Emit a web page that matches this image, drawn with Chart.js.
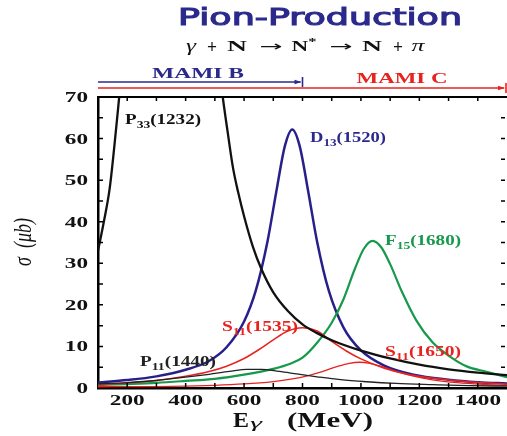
<!DOCTYPE html>
<html>
<head>
<meta charset="utf-8">
<script src="https://cdn.jsdelivr.net/npm/chart.js@4/dist/chart.umd.min.js"></script>
<style>
  html, body { margin: 0; padding: 0; background: #fff; }
  canvas { display: block; }
</style>
</head>
<body>
<canvas id="c" width="507" height="436"></canvas>
<script>
// Photon energy E_gamma (MeV) and cross section sigma (μb) for each resonance
const p33E = [100, 120, 140, 160, 180, 200, 240, 280, 320, 340, 360, 400, 450, 480, 500, 510, 520, 527, 545, 562, 580, 600, 630, 660, 700, 750, 800, 850, 900, 1000, 1100, 1200, 1300, 1400, 1500];
const p33S = [33, 40, 48, 61, 76, 96, 150, 215, 265, 275, 270, 235, 138, 105, 88, 80.5, 74, 70, 61, 53, 47, 41.3, 34, 28.5, 23, 18.5, 15.3, 13.2, 11.5, 9.0, 7.1, 5.6, 4.5, 3.7, 3.1];

const d13E = [100, 200, 300, 400, 480, 540, 600, 640, 680, 710, 740, 765, 790, 820, 850, 890, 940, 1000, 1080, 1180, 1300, 1400, 1500];
const d13S = [1.3, 1.9, 2.8, 4.4, 6.5, 9.8, 16.0, 23.4, 35.2, 47.1, 58.3, 62.2, 58.3, 47.1, 35.2, 23.4, 14.6, 9.05, 5.4, 3.2, 2.0, 1.4, 1.1];

const f15E = [100, 200, 300, 400, 500, 600, 700, 760, 800, 850, 900, 940, 980, 1010, 1040, 1070, 1100, 1140, 1190, 1245, 1300, 1362, 1430, 1500];
const f15S = [0.7, 0.95, 1.25, 1.7, 2.2, 3.2, 4.6, 5.9, 7.3, 10.9, 15.7, 21.3, 28.8, 33.5, 35.4, 33.8, 29.8, 23.2, 16.2, 11.0, 7.8, 5.2, 3.9, 2.6];

const s1535E = [100, 200, 300, 400, 480, 540, 600, 650, 700, 750, 800, 850, 900, 950, 1000, 1080, 1160, 1245, 1350, 1500];
const s1535S = [0.8, 1.2, 1.8, 2.8, 3.96, 5.25, 7.1, 9.2, 11.6, 13.7, 14.5, 13.7, 11.2, 8.9, 7.0, 4.77, 3.3, 2.4, 1.63, 0.9];

const s1650E = [100, 300, 500, 600, 700, 760, 820, 870, 920, 960, 995, 1030, 1070, 1120, 1180, 1245, 1330, 1420, 1500];
const s1650S = [0.3, 0.35, 0.65, 0.97, 1.55, 2.13, 3.0, 4.0, 5.2, 5.95, 6.2, 5.95, 5.2, 4.0, 2.84, 1.96, 1.27, 0.86, 0.63];

const p11E = [100, 200, 300, 400, 480, 550, 610, 660, 720, 780, 850, 930, 1020, 1120, 1245, 1370, 1500];
const p11S = [1.0, 1.3, 1.8, 2.6, 3.3, 4.0, 4.5, 4.5, 4.0, 3.4, 2.7, 2.0, 1.5, 1.1, 0.8, 0.55, 0.45];

// Axis ticks
const xTickLabels = [200, 400, 600, 800, 1000, 1200, 1400];
const yTickLabels = [0, 10, 20, 30, 40, 50, 60, 70];

// Beam energy ranges of the two accelerator stages (MeV)
const mamiBEnd = 800;
const mamiCEnd = 1500;

const NAVY = '#2b2a8c';
const RED = '#e8231f';
const GREEN = '#16994a';
const SERIF = "'Liberation Serif', 'Times New Roman', serif";
const SANS = "'DejaVu Sans', sans-serif";

function pts(E, S) { return E.map((x, i) => ({ x: x, y: S[i] })); }

function curve(label, E, S, color, width) {
  return {
    label: label, data: pts(E, S), borderColor: color, borderWidth: width,
    pointRadius: 0, fill: false, cubicInterpolationMode: 'monotone'
  };
}

// Draw a run of text pieces (with sub/superscripts), optionally stretched to a given width
function rich(ctx, parts, x, y, size, color, width, align, fam, weight, stroke) {
  fam = fam || SERIF; weight = weight || 'bold';
  const fontOf = p => {
    const base = p.size || size;
    const s = (p.sub || p.sup) ? Math.round(base * (p.scale || 0.68)) : base;
    return (p.italic ? 'italic ' : '') + (p.weight || weight) + ' ' + s + 'px ' + (p.fam || fam);
  };
  ctx.save();
  let w = 0;
  parts.forEach(p => { ctx.font = fontOf(p); p._w = ctx.measureText(p.t).width; w += p._w; });
  const sx = width ? width / w : 1;
  ctx.translate(x, y);
  ctx.scale(sx, 1);
  let cx = align === 'center' ? -w / 2 : (align === 'right' ? -w : 0);
  ctx.fillStyle = color;
  ctx.strokeStyle = color;
  ctx.lineWidth = stroke || 0;
  ctx.textBaseline = 'alphabetic';
  ctx.textAlign = 'left';
  parts.forEach(p => {
    ctx.font = fontOf(p);
    const dy = (p.dy !== undefined) ? p.dy : (p.sub ? size * 0.3 : (p.sup ? -size * 0.42 : 0));
    ctx.fillText(p.t, cx, dy);
    if (stroke) ctx.strokeText(p.t, cx, dy);
    cx += p._w;
  });
  ctx.restore();
}

const decorations = {
  id: 'decorations',
  afterDraw(chart) {
    const ctx = chart.ctx;
    const a = chart.chartArea;
    const xs = chart.scales.x, ys = chart.scales.y;

    // frame: top edge
    ctx.save();
    ctx.strokeStyle = '#000';
    ctx.lineWidth = 2;
    ctx.beginPath(); ctx.moveTo(a.left, a.top); ctx.lineTo(a.right, a.top); ctx.stroke();

    // inward tick marks
    ctx.lineWidth = 1.5;
    ctx.beginPath();
    for (let e = 200; e <= 1400; e += 100) {
      const px = xs.getPixelForValue(e);
      ctx.moveTo(px, a.bottom); ctx.lineTo(px, a.bottom - 5);
      ctx.moveTo(px, a.top); ctx.lineTo(px, a.top + 4);
    }
    for (let v = 5; v < 70; v += 5) {
      const py = ys.getPixelForValue(v);
      ctx.moveTo(a.left, py); ctx.lineTo(a.left + 5, py);
      ctx.moveTo(a.right - 2, py); ctx.lineTo(a.right - 6, py);
    }
    ctx.stroke();
    ctx.restore();

    // tick labels
    xTickLabels.forEach(v => {
      rich(ctx, [{ t: String(v) }], xs.getPixelForValue(v), 405, 14, '#111', String(v).length * 11.6, 'center');
    });
    yTickLabels.forEach(v => {
      rich(ctx, [{ t: String(v) }], 88, ys.getPixelForValue(v) + 5, 14, '#111', String(v).length * 11.6, 'right');
    });

    // axis titles
    rich(ctx, [{ t: 'E' }], 233, 427, 20, '#111', 16, 'left');
    rich(ctx, [{ t: 'γ', italic: true, weight: 'normal' }], 250, 428, 14, '#111', 12, 'left');
    rich(ctx, [{ t: '(MeV)' }], 287, 427, 20, '#111', 86, 'left');

    ctx.save();
    ctx.translate(31, 242);
    ctx.rotate(-Math.PI / 2);
    ctx.scale(1, 1.35);
    ctx.fillStyle = '#111';
    ctx.textAlign = 'center';
    ctx.textBaseline = 'alphabetic';
    ctx.font = 'italic 18px ' + SERIF;
    ctx.fillText('σ  (μb)', 0, 0);
    ctx.restore();

    // title
    rich(ctx, [{ t: 'Pion-Production' }], 320, 25, 23, NAVY, 284, 'center', SANS, 'normal', 1.1);

    // reaction line, piece by piece
    const rx = [
      [[{ t: 'γ', italic: true, weight: 'normal', size: 17 }], 191, 10],
      [[{ t: '+', size: 18, dy: 2 }], 212, 10],
      [[{ t: 'N' }], 237, 20],
      [[{ t: '→', weight: 'normal', fam: SANS }], 271, 23],
      [[{ t: 'N' }, { t: '*', sup: true }], 304, 25],
      [[{ t: '→', weight: 'normal', fam: SANS }], 341, 23],
      [[{ t: 'N' }], 372, 20],
      [[{ t: '+', size: 18, dy: 2 }], 398, 10],
      [[{ t: 'π', italic: true, weight: 'normal', size: 17 }], 418, 13]
    ];
    rx.forEach(r => rich(ctx, r[0], r[1], 51, 14, '#111', r[2], 'center'));

    // beam energy ranges
    const bEnd = xs.getPixelForValue(mamiBEnd);
    const cEnd = xs.getPixelForValue(mamiCEnd) - 1;
    const bar = (x0, x1, y, col) => {
      ctx.save();
      ctx.strokeStyle = col; ctx.fillStyle = col; ctx.lineWidth = 1.6;
      ctx.beginPath(); ctx.moveTo(x0, y); ctx.lineTo(x1 - 2, y); ctx.stroke();
      ctx.beginPath(); ctx.moveTo(x1 - 1, y); ctx.lineTo(x1 - 8, y - 2.2); ctx.lineTo(x1 - 8, y + 2.2); ctx.closePath(); ctx.fill();
      ctx.lineWidth = 1.6;
      ctx.beginPath(); ctx.moveTo(x1, y - 5); ctx.lineTo(x1, y + 5); ctx.stroke();
      ctx.restore();
    };
    bar(a.left, bEnd, 82, NAVY);
    bar(a.left, cEnd, 88, RED);
    rich(ctx, [{ t: 'MAMI B' }], 198, 78, 15, NAVY, 92, 'center');
    rich(ctx, [{ t: 'MAMI C' }], 402, 83, 15, RED, 91, 'center');

    // resonance labels
    const lab = (n, sub, m, x, y, col) =>
      rich(ctx, [{ t: n }, { t: sub, sub: true }, { t: '(' + m + ')' }], x, y, 14, col, 76, 'left');
    lab('P', '33', '1232', 125, 124, '#111');
    lab('D', '13', '1520', 310, 142, NAVY);
    lab('F', '15', '1680', 385, 245, GREEN);
    lab('S', '11', '1535', 222, 331, RED);
    lab('S', '11', '1650', 385, 356, RED);
    lab('P', '11', '1440', 140, 366, '#222');
  }
};

new Chart(document.getElementById('c'), {
  type: 'line',
  data: {
    datasets: [
      curve('P33(1232)', p33E, p33S, '#111', 2.3),
      curve('P11(1440)', p11E, p11S, '#222', 1.3),
      curve('S11(1535)', s1535E, s1535S, RED, 1.5),
      curve('S11(1650)', s1650E, s1650S, RED, 1.3),
      curve('F15(1680)', f15E, f15S, GREEN, 2.2),
      curve('D13(1520)', d13E, d13S, '#28208a', 2.5)
    ]
  },
  options: {
    responsive: false,
    animation: false,
    events: [],
    layout: { padding: { top: 97, right: 0, bottom: 0, left: 0 } },
    plugins: { legend: { display: false }, tooltip: { enabled: false }, title: { display: false } },
    scales: {
      x: {
        type: 'linear', min: 100, max: 1500,
        grid: { display: false, drawTicks: false },
        border: { display: true, color: '#000', width: 2.5 },
        ticks: { display: false },
        afterFit(s) { s.height = 48; }
      },
      y: {
        min: 0, max: 70,
        grid: { display: false, drawTicks: false },
        border: { display: true, color: '#000', width: 2.5 },
        ticks: { display: false },
        afterFit(s) { s.width = 98; }
      }
    }
  },
  plugins: [decorations]
});
</script>
</body>
</html>
